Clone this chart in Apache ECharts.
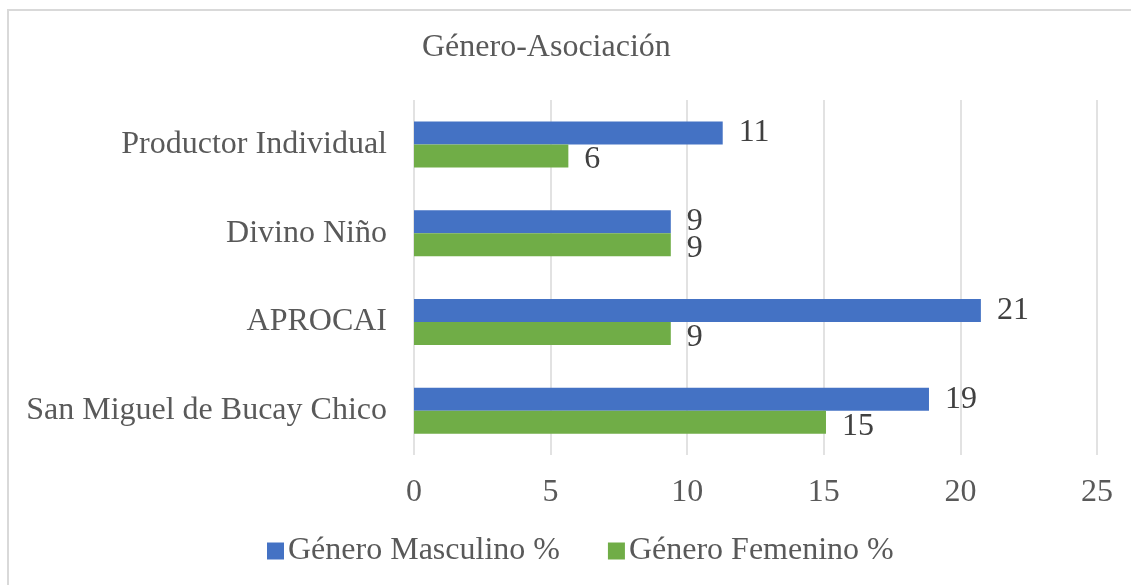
<!DOCTYPE html>
<html>
<head>
<meta charset="utf-8">
<script src="https://cdn.jsdelivr.net/npm/echarts@6/dist/echarts.min.js"></script>
<style>html,body{margin:0;padding:0;background:#fff}#c{width:1131px;height:585px}</style>
</head>
<body>
<div id="c"></div>
<script>
const categories = ["Productor Individual", "Divino Niño", "APROCAI", "San Miguel de Bucay Chico"];
const masculino = [11.3, 9.4, 20.75, 18.85];
const femenino = [5.65, 9.4, 9.4, 15.08];
const seriesNames = ["Género Masculino %", "Género Femenino %"];
const titleText = "Género-Asociación";

const FONT = "'Liberation Serif', 'Times New Roman', serif";
const TXT = '#595959';
const FS = 32;
const chart = echarts.init(document.getElementById('c'));
const labelCfg = {
  show: true, position: 'right', distance: 16,
  fontFamily: FONT, fontSize: FS, color: '#404040',
  formatter: p => Math.round(p.value)
};
chart.setOption({
  animation: false,
  title: {
    text: titleText, left: 417, top: 27,
    textStyle: { fontFamily: FONT, fontSize: FS, fontWeight: 'normal', color: TXT }
  },
  graphic: [
    { type: 'line', shape: { x1: 7, y1: 10, x2: 1131, y2: 10 }, style: { stroke: '#d9d9d9', lineWidth: 2 } },
    { type: 'line', shape: { x1: 8, y1: 10, x2: 8, y2: 585 }, style: { stroke: '#d9d9d9', lineWidth: 2 } }
  ],
  legend: {
    data: seriesNames, bottom: 13, left: 262, itemGap: 48,
    itemWidth: 17, itemHeight: 17, icon: 'rect',
    textStyle: { fontFamily: FONT, fontSize: FS, color: TXT, padding: [0, 0, 0, -1] }
  },
  grid: { left: 414, right: 34, top: 100, bottom: 130, containLabel: false },
  xAxis: {
    type: 'value', min: 0, max: 25, interval: 5,
    axisLine: { show: false }, axisTick: { show: false },
    splitLine: { lineStyle: { color: '#d9d9d9', width: 1.5 } },
    axisLabel: { fontFamily: FONT, fontSize: FS, color: TXT, margin: 22 }
  },
  yAxis: {
    type: 'category', data: categories, inverse: true,
    axisLine: { show: false }, axisTick: { show: false },
    axisLabel: { fontFamily: FONT, fontSize: FS, color: TXT, margin: 27 }
  },
  series: [
    { name: seriesNames[0], type: 'bar', data: masculino, barWidth: 23, barGap: '0%',
      itemStyle: { color: '#4472C4' }, label: labelCfg },
    { name: seriesNames[1], type: 'bar', data: femenino, barWidth: 23, barGap: '0%',
      itemStyle: { color: '#70AD47' }, label: Object.assign({}, labelCfg, { offset: [0, 4] }) }
  ]
});
</script>
</body>
</html>
